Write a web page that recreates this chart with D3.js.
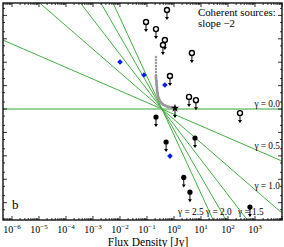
<!DOCTYPE html>
<html>
<head>
<meta charset="utf-8">
<script src="https://cdn.jsdelivr.net/npm/d3@7"></script>
<style>
  body { margin: 0; background: #fff; }
  svg { display: block; }
</style>
</head>
<body>
<svg id="chart" width="284" height="247" font-family="'Liberation Serif', 'DejaVu Serif', serif"></svg>
<script>
// power-law guide lines, all through one pivot point
const gammas = [0.0, 0.5, 1.0, 1.5, 2.0, 2.5];
const pivotFlux = 0.36;
const pivotY = 1;

// open circles (upper limits)
const openFlux = [0.55, 0.092, 0.215, 0.46, 0.39, 4.6, 0.71, 3.6, 6.5, 278];
const openY = [1.7e4, 5.2e3, 2.6e3, 890, 543, 247, 25.7, 3.3, 2.4, 0.67];

// filled circles (upper limits)
const filledFlux = [0.215, 0.51, 6.0, 2.3, 3.9, 650];
const filledY = [0.455, 0.039, 0.058, 1.2e-3, 2.8e-4, 6.5e-5];

// star (upper limit)
const starFlux = [1.09];
const starY = [1.1];

// blue diamonds
const blueFlux = [0.01, 0.077, 0.46, 0.71];
const blueY = [102, 28.4, 10.6, 0.0098];

// grey track
const greyFlux = [0.215, 0.215, 0.215, 0.215, 0.215, 0.215, 0.215, 0.215, 0.225, 0.225,
                  0.234, 0.234, 0.245, 0.255, 0.278, 0.303, 0.344, 0.392, 0.464, 0.551,
                  0.653, 0.774, 0.918, 1.09, 1.29];
const greyY = [167, 124, 92.5, 68.8, 51.2, 38.1, 28.4, 21.1, 15.7, 11.7,
               8.7, 6.5, 4.8, 3.6, 2.67, 2.2, 1.8, 1.56, 1.41, 1.30,
               1.22, 1.16, 1.13, 1.10, 1.08];

const xTickExps = [-6, -5, -4, -3, -2, -1, 0, 1, 2, 3];

const svg = d3.select("#chart");
const pL = 3, pR = 282, pT = 3, pB = 220;

const x = d3.scaleLog()
    .domain([Math.pow(10, -6.333), 1e4])
    .range([pL, pR]);
const y = d3.scaleLog()
    .domain([Math.pow(10, -4.74), Math.pow(10, 4.53)])
    .range([pB, pT]);

svg.append("defs").append("clipPath").attr("id", "clip")
  .append("rect")
    .attr("x", pL).attr("y", pT)
    .attr("width", pR - pL).attr("height", pB - pT);

const plot = svg.append("g").attr("clip-path", "url(#clip)");

// guide lines
const xd = x.domain();
gammas.forEach(function(g) {
    const pts = xd.map(function(s) { return [s, pivotY * Math.pow(s / pivotFlux, -g)]; });
    plot.append("line")
        .attr("x1", x(pts[0][0])).attr("y1", y(pts[0][1]))
        .attr("x2", x(pts[1][0])).attr("y2", y(pts[1][1]))
        .attr("stroke", g === 0 ? "#9ad39a" : "#46ad46")
        .attr("stroke-width", g === 0 ? 2 : 1);
});

// grey track
const grey = greyFlux.map(function(s, i) { return [s, greyY[i]]; });
plot.append("path")
    .attr("d", d3.line().x(d => x(d[0])).y(d => y(d[1]))(grey.filter(d => d[1] < 30)))
    .attr("fill", "none")
    .attr("stroke", "#9a9a9a")
    .attr("stroke-width", 2.6);
plot.selectAll(".grey").data(grey).enter()
  .append("circle")
    .attr("cx", d => x(d[0])).attr("cy", d => y(d[1]))
    .attr("r", 1.2)
    .attr("fill", "#999");

// upper limit arrows
function arrows(fl, ys) {
    fl.forEach(function(s, i) {
        const cx = x(s), cy = y(ys[i]);
        plot.append("line")
            .attr("x1", cx).attr("y1", cy).attr("x2", cx).attr("y2", cy + 9)
            .attr("stroke", "#000").attr("stroke-width", 1);
        plot.append("path")
            .attr("d", `M${cx - 2},${cy + 7} L${cx + 2},${cy + 7} L${cx},${cy + 10} Z`)
            .attr("fill", "#000");
    });
}
arrows(openFlux, openY);
arrows(filledFlux, filledY);
arrows(starFlux, starY);

plot.selectAll(".open").data(openFlux).enter()
  .append("circle")
    .attr("cx", d => x(d)).attr("cy", (d, i) => y(openY[i]))
    .attr("r", 2.5)
    .attr("fill", "#fff").attr("stroke", "#000").attr("stroke-width", 1.4);

plot.selectAll(".filled").data(filledFlux).enter()
  .append("circle")
    .attr("cx", d => x(d)).attr("cy", (d, i) => y(filledY[i]))
    .attr("r", 2.6)
    .attr("fill", "#000");

plot.selectAll(".star").data(starFlux).enter()
  .append("path")
    .attr("transform", (d, i) => `translate(${x(d)},${y(starY[i])})`)
    .attr("d", d3.symbol().type(d3.symbolStar).size(22))
    .attr("fill", "#000");

plot.selectAll(".blue").data(blueFlux).enter()
  .append("path")
    .attr("transform", (d, i) => `translate(${x(d)},${y(blueY[i])}) rotate(45)`)
    .attr("d", d3.symbol().type(d3.symbolSquare).size(16))
    .attr("fill", "#0a1fe0");

// axes, ticks inside, no y labels
const xMajor = d3.range(-6, 5).map(e => Math.pow(10, e));
const xMinor = [];
d3.range(-7, 4).forEach(function(e) {
    for (let k = 2; k < 10; k++) {
        const v = k * Math.pow(10, e);
        if (v > xd[0] && v < xd[1]) xMinor.push(v);
    }
});
const yd = y.domain();
const yMajor = d3.range(-4, 5).map(e => Math.pow(10, e));
const yMinor = [];
d3.range(-5, 5).forEach(function(e) {
    [2, 5].forEach(function(k) {
        const v = k * Math.pow(10, e);
        if (v > yd[0] && v < yd[1]) yMinor.push(v);
    });
});

const ticks = svg.append("g").attr("stroke", "#000").attr("stroke-width", 0.8);
function xTicks(vals, len) {
    vals.forEach(function(v) {
        ticks.append("line").attr("x1", x(v)).attr("x2", x(v)).attr("y1", pB).attr("y2", pB - len);
        ticks.append("line").attr("x1", x(v)).attr("x2", x(v)).attr("y1", pT).attr("y2", pT + len);
    });
}
function yTicks(vals, len) {
    vals.forEach(function(v) {
        ticks.append("line").attr("y1", y(v)).attr("y2", y(v)).attr("x1", pL).attr("x2", pL + len);
        ticks.append("line").attr("y1", y(v)).attr("y2", y(v)).attr("x1", pR).attr("x2", pR - len);
    });
}
xTicks(xMajor, 4);
xTicks(xMinor, 2);
yTicks(yMajor, 4);
yTicks(yMinor, 2);

svg.append("rect")
    .attr("x", pL).attr("y", pT)
    .attr("width", pR - pL).attr("height", pB - pT)
    .attr("fill", "none").attr("stroke", "#000").attr("stroke-width", 1.3);

// x tick labels
xTickExps.forEach(function(e) {
    const t = svg.append("text")
        .attr("x", x(Math.pow(10, e)))
        .attr("y", 233)
        .attr("text-anchor", "middle")
        .attr("font-size", 10);
    t.append("tspan").text("10");
    t.append("tspan").attr("dy", -4.5).attr("font-size", 7).text(e < 0 ? "\u2212" + (-e) : e);
});

svg.append("text")
    .attr("x", 148).attr("y", 246)
    .attr("text-anchor", "middle")
    .attr("font-size", 11.5)
    .text("Flux Density [Jy]");

svg.append("text").attr("x", 12).attr("y", 209).attr("font-size", 13).text("b");

svg.append("text").attr("x", 198).attr("y", 16).attr("font-size", 10.8).text("Coherent sources:");
svg.append("text").attr("x", 198).attr("y", 27).attr("font-size", 10.8).text("slope \u22122");

// gamma labels
const gLabels = [
    ["0.0", 280, 107, "end"],
    ["0.5", 280, 149, "end"],
    ["1.0", 280, 189, "end"],
    ["2.5", 178, 215, "start"],
    ["2.0", 206, 215, "start"],
    ["1.5", 238, 215, "start"]
];
gLabels.forEach(function(l) {
    svg.append("text")
        .attr("x", l[1]).attr("y", l[2])
        .attr("text-anchor", l[3])
        .attr("font-size", 9.3)
        .text("\u03b3 = " + l[0]);
});
</script>
</body>
</html>
